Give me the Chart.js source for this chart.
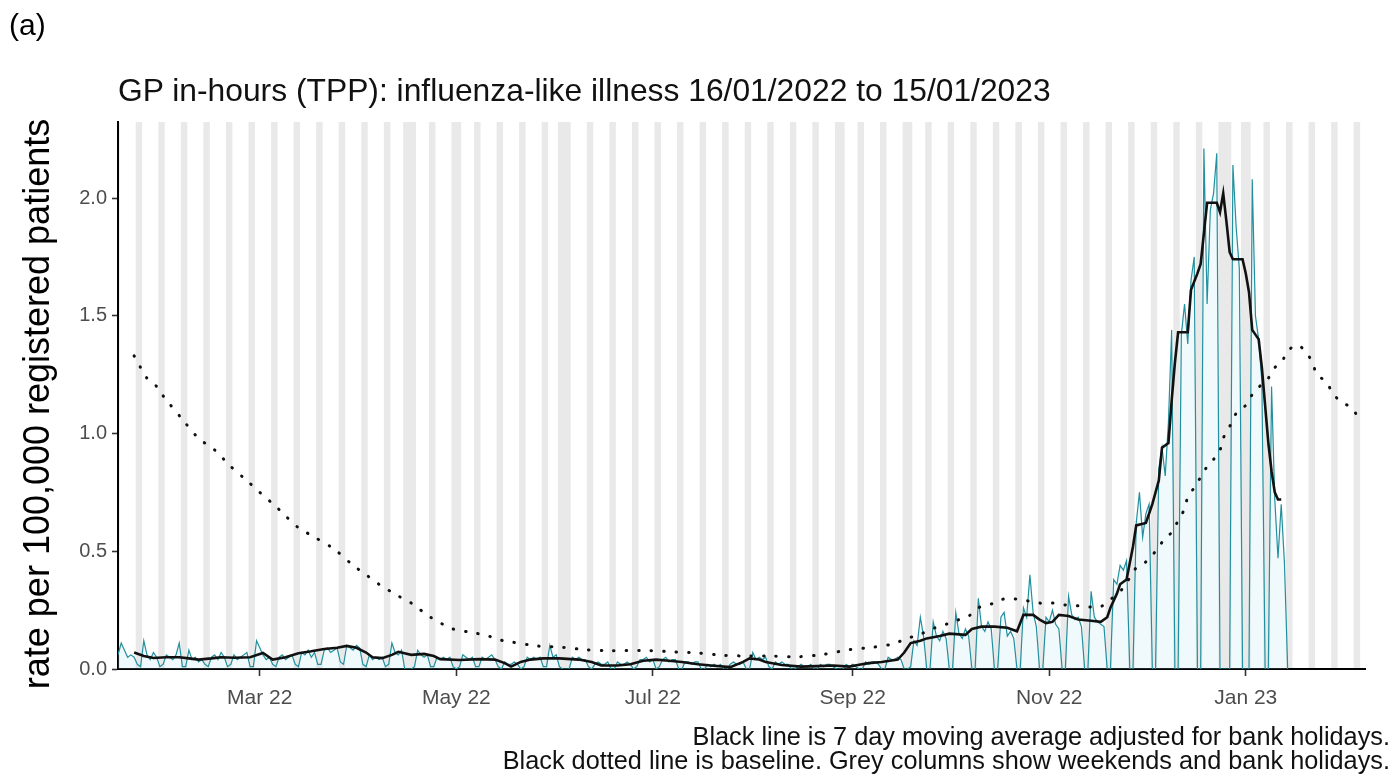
<!DOCTYPE html>
<html>
<head>
<meta charset="utf-8">
<script src="https://cdn.jsdelivr.net/npm/chart.js@4.4.0/dist/chart.umd.min.js"></script>
<style>
  html, body { margin: 0; padding: 0; background: #fff; }
  #wrap { position: relative; width: 1397px; height: 778px; overflow: hidden; font-family: 'Liberation Sans', Arial, Helvetica, sans-serif; }
  #c { position: absolute; left: 0; top: 0; }
  .txt { position: absolute; white-space: nowrap; line-height: 1; color: #000; }
  #tag { left: 9px; top: 10px; font-size: 30px; }
  #title { left: 118px; top: 75px; font-size: 31.8px; color: #111; }
  #cap { right: 7px; top: 724px; font-size: 25.3px; line-height: 24px; text-align: right; color: #111; }
  #ytitle { left: -313px; top: 386px; width: 700px; height: 36px; line-height: 36px; font-size: 36px; text-align: center; transform: rotate(-90deg); transform-origin: 350px 18px; color: #000; }
</style>
</head>
<body>
<div id="wrap">
  <canvas id="c" width="1397" height="778"></canvas>
  <div id="tag" class="txt">(a)</div>
  <div id="title" class="txt">GP in-hours (TPP): influenza-like illness 16/01/2022 to 15/01/2023</div>
  <div id="ytitle" class="txt">rate per 100,000 registered patients</div>
  <div id="cap" class="txt">Black line is 7 day moving average adjusted for bank holidays.<br>Black dotted line is baseline. Grey columns show weekends and bank holidays.</div>
</div>
<script>
// ---------------- DATA ----------------
const startDate = '2022-01-16';          // day 0 of all day-index arrays
const axisEndDate = '2023-02-07';

const xTickDates  = ['2022-03-01', '2022-05-01', '2022-07-01', '2022-09-01', '2022-11-01', '2023-01-01'];
const xTickLabels = ['Mar 22', 'May 22', 'Jul 22', 'Sep 22', 'Nov 22', 'Jan 23'];
const yTickValues = [0, 0.5, 1.0, 1.5, 2.0];
const yMax = 2.323;

const bankHolidays = ['2022-04-15', '2022-04-18', '2022-05-02', '2022-06-02', '2022-06-03',
                      '2022-08-29', '2022-09-19', '2022-12-26', '2022-12-27', '2023-01-02'];

// daily rate, one value per day from 16/01/2022 (rows = weeks Sun..Sat)
const dailyRate = [
  0.06,0.11,0.08,0.05,0.06,0.05,0.02,
  0.01,0.12,0.06,0.04,0.07,0.05,0.01,
  0.02,0.06,0.05,0.04,0.06,0.11,0.01,
  0.01,0.08,0.04,0.05,0.03,0.04,0.02,
  0.01,0.05,0.06,0.04,0.07,0.05,0.01,
  0.02,0.06,0.04,0.05,0.06,0.07,0.01,
  0.01,0.12,0.09,0.06,0.04,0.05,0.02,
  0.01,0.05,0.06,0.04,0.05,0.06,0.02,
  0.01,0.07,0.06,0.08,0.05,0.07,0.02,
  0.02,0.08,0.09,0.07,0.08,0.09,0.03,
  0.02,0.10,0.09,0.08,0.10,0.09,0.02,
  0.01,0.06,0.04,0.05,0.04,0.05,0.01,
  0.02,0.11,0.07,0.06,0.08,0.00,0.00,
  0.00,0.01,0.08,0.06,0.05,0.06,0.01,
  0.01,0.05,0.04,0.05,0.04,0.05,0.01,
  0.00,0.01,0.06,0.05,0.04,0.05,0.01,
  0.01,0.05,0.04,0.05,0.06,0.04,0.01,
  0.00,0.03,0.02,0.02,0.03,0.02,0.00,
  0.01,0.05,0.04,0.05,0.04,0.05,0.01,
  0.01,0.10,0.05,0.06,0.01,0.00,0.00,
  0.00,0.05,0.04,0.05,0.04,0.04,0.01,
  0.00,0.02,0.03,0.02,0.02,0.03,0.00,
  0.00,0.03,0.02,0.02,0.03,0.02,0.00,
  0.01,0.04,0.04,0.05,0.03,0.04,0.00,
  0.01,0.04,0.05,0.03,0.04,0.04,0.00,
  0.00,0.03,0.03,0.02,0.03,0.03,0.00,
  0.00,0.02,0.01,0.02,0.01,0.02,0.00,
  0.00,0.02,0.03,0.02,0.02,0.03,0.00,
  0.00,0.07,0.04,0.05,0.04,0.05,0.01,
  0.00,0.03,0.02,0.03,0.02,0.02,0.00,
  0.00,0.01,0.02,0.01,0.01,0.02,0.00,
  0.00,0.02,0.01,0.02,0.02,0.01,0.00,
  0.00,0.00,0.02,0.01,0.02,0.01,0.00,
  0.00,0.03,0.02,0.03,0.03,0.02,0.00,
  0.00,0.05,0.04,0.04,0.05,0.04,0.00,
  0.00,0.01,0.12,0.10,0.22,0.14,0.00,
  0.00,0.20,0.14,0.12,0.16,0.13,0.00,
  0.00,0.24,0.15,0.13,0.17,0.14,0.00,
  0.00,0.30,0.18,0.16,0.20,0.17,0.00,
  0.00,0.22,0.24,0.14,0.16,0.13,0.00,
  0.00,0.26,0.22,0.40,0.24,0.18,0.00,
  0.00,0.22,0.20,0.25,0.19,0.17,0.00,
  0.00,0.31,0.23,0.21,0.22,0.18,0.00,
  0.00,0.33,0.22,0.20,0.19,0.18,0.00,
  0.00,0.38,0.36,0.44,0.42,0.46,0.00,
  0.00,0.62,0.75,0.56,0.66,0.70,0.00,
  0.00,0.85,0.94,0.82,1.05,1.44,0.00,
  0.00,1.42,1.55,1.38,1.65,1.75,0.00,
  0.00,2.21,1.55,1.95,2.02,2.19,0.00,
  0.00,0.00,0.00,2.14,1.88,1.70,0.00,
  0.00,0.00,2.08,1.50,1.40,1.22,0.00,
  0.00,1.20,0.72,0.47,0.70,0.45,0.00
];

// 7 day moving average (day index since 16/01/2022, value)
const maDay = [5,8,11,15,19,22,25,29,32,36,41,45,48,52,56,60,64,68,71,74,77,79,82,85,87,91,95,98,100,106,112,117,120,122,125,128,132,137,143,147,150,155,159,163,167,171,175,180,184,190,194,196,199,201,206,212,217,222,227,230,233,237,242,244,246,249,251,255,258,263,265,268,272,276,279,281,284,286,288,290,292,295,298,302,305,307,308,310,311,313,315,316,319,321,323,324,326,327,328,329,332,333,335,336,337,338,341,342,343,344,345,346,349,350,351,352,353,354,355,356,357,358,359,360,361];
const maValue = [0.07,0.055,0.047,0.05,0.05,0.045,0.04,0.045,0.05,0.048,0.05,0.068,0.04,0.05,0.067,0.075,0.085,0.09,0.098,0.09,0.07,0.05,0.046,0.06,0.073,0.06,0.064,0.055,0.042,0.038,0.042,0.04,0.025,0.01,0.03,0.04,0.045,0.045,0.04,0.03,0.015,0.015,0.02,0.035,0.04,0.035,0.03,0.02,0.015,0.008,0.03,0.045,0.04,0.03,0.017,0.01,0.012,0.015,0.01,0.018,0.025,0.03,0.04,0.07,0.11,0.12,0.13,0.14,0.15,0.145,0.17,0.18,0.18,0.175,0.16,0.23,0.23,0.21,0.195,0.2,0.23,0.225,0.21,0.205,0.2,0.22,0.26,0.32,0.36,0.38,0.52,0.61,0.62,0.70,0.80,0.94,0.96,1.14,1.30,1.43,1.43,1.61,1.68,1.72,1.85,1.98,1.98,1.94,2.02,1.90,1.77,1.74,1.74,1.68,1.60,1.44,1.42,1.40,1.28,1.12,0.96,0.84,0.75,0.72,0.72];

// baseline (day index since 16/01/2022, value)
const baseDay = [5,7,9,12,14,20,25,30,35,40,44,49,52,56,61,67,73,77,81,87,91,97,104,110,115,118,122,130,138,145,152,165,173,180,188,196,203,211,219,227,234,240,245,249,253,257,260,264,267,271,274,278,282,286,290,294,298,302,305,308,312,316,319,322,325,327,329,331,332,334,336,338,340,342,343,345,347,350,352,355,357,359,361,363,366,369,371,372,375,377,380,383,385];
const baseValue = [1.33,1.28,1.235,1.2,1.16,1.06,0.98,0.93,0.86,0.80,0.75,0.69,0.65,0.60,0.56,0.51,0.44,0.40,0.36,0.31,0.28,0.22,0.17,0.155,0.14,0.125,0.115,0.098,0.092,0.082,0.078,0.078,0.072,0.068,0.058,0.055,0.055,0.052,0.062,0.082,0.092,0.105,0.13,0.148,0.172,0.19,0.205,0.225,0.26,0.276,0.295,0.298,0.29,0.28,0.28,0.272,0.268,0.263,0.265,0.295,0.345,0.43,0.455,0.50,0.556,0.58,0.63,0.68,0.73,0.77,0.815,0.86,0.89,0.93,0.98,1.03,1.085,1.12,1.165,1.21,1.235,1.28,1.30,1.35,1.376,1.34,1.29,1.25,1.22,1.17,1.13,1.11,1.06];

// ---------------- BUILD ----------------
function dayIndex(s) {
  const [y, m, d] = s.split('-').map(Number);
  const [y0, m0, d0] = startDate.split('-').map(Number);
  return Math.round((Date.UTC(y, m - 1, d) - Date.UTC(y0, m0 - 1, d0)) / 86400000);
}
const xMax = dayIndex(axisEndDate);
const bhSet = new Set(bankHolidays.map(dayIndex));
const greyRanges = [];
{
  const [y0, m0, d0] = startDate.split('-').map(Number);
  let cur = null;
  for (let i = 0; i <= xMax; i++) {
    const wd = new Date(Date.UTC(y0, m0 - 1, d0 + i)).getUTCDay();
    const grey = wd === 0 || wd === 6 || bhSet.has(i);
    if (grey) { if (cur) cur[1] = i; else { cur = [i, i]; greyRanges.push(cur); } }
    else cur = null;
  }
}

const greyPlugin = {
  id: 'greyColumns',
  beforeDraw(chart) {
    const { ctx, chartArea: a, scales: { x } } = chart;
    ctx.save();
    ctx.beginPath();
    ctx.rect(a.left, a.top, a.right - a.left, a.bottom - a.top);
    ctx.clip();
    ctx.fillStyle = '#e9e9e9';
    greyRanges.forEach(([s, e]) => {
      const x0 = x.getPixelForValue(s - 0.5);
      const x1 = x.getPixelForValue(e + 0.5);
      ctx.fillRect(x0, a.top, x1 - x0, a.bottom - a.top);
    });
    ctx.restore();
  }
};

const FONT = "'Liberation Sans', Arial, Helvetica, sans-serif";

new Chart(document.getElementById('c'), {
  type: 'line',
  data: {
    datasets: [
      {
        label: 'baseline',
        data: baseDay.map((d, i) => ({ x: d, y: baseValue[i] })),
        borderColor: '#111',
        borderWidth: 3,
        borderDash: [0.5, 12],
        borderCapStyle: 'round',
        pointRadius: 0,
        tension: 0.3,
        fill: false,
        order: 1
      },
      {
        label: '7 day moving average',
        data: maDay.map((d, i) => ({ x: d, y: maValue[i] })),
        borderColor: '#111',
        borderWidth: 2.6,
        pointRadius: 0,
        tension: 0,
        fill: false,
        order: 2
      },
      {
        label: 'daily rate',
        data: dailyRate.map((v, i) => ({ x: i, y: v })),
        borderColor: '#22909e',
        borderWidth: 1.2,
        backgroundColor: 'rgba(170,222,232,0.18)',
        pointRadius: 0,
        tension: 0,
        fill: 'origin',
        order: 3
      }
    ]
  },
  options: {
    responsive: false,
    animation: false,
    devicePixelRatio: 1,
    layout: { padding: { top: 122, right: 32, left: 0, bottom: 0 } },
    plugins: { legend: { display: false }, tooltip: { enabled: false }, title: { display: false } },
    scales: {
      x: {
        type: 'linear',
        min: 0,
        max: xMax,
        afterFit(s) { s.height = 109; },
        afterBuildTicks(s) { s.ticks = xTickDates.map(d => ({ value: dayIndex(d) })); },
        ticks: {
          autoSkip: false, maxRotation: 0, minRotation: 0,
          padding: 10,
          color: '#4d4d4d',
          font: { family: FONT, size: 21 },
          callback: (v, i) => xTickLabels[i]
        },
        grid: { drawOnChartArea: false, drawTicks: true, tickLength: 7, tickColor: '#333', tickWidth: 1.6 },
        border: { display: true, color: '#000', width: 2 }
      },
      y: {
        type: 'linear',
        min: 0,
        max: yMax,
        afterFit(s) { s.width = 118; },
        afterBuildTicks(s) { s.ticks = yTickValues.map(v => ({ value: v })); },
        ticks: {
          padding: 5,
          color: '#4d4d4d',
          font: { family: FONT, size: 20 },
          callback: v => Number(v).toFixed(1)
        },
        grid: { drawOnChartArea: false, drawTicks: true, tickLength: 6, tickColor: '#333', tickWidth: 1.6 },
        border: { display: true, color: '#000', width: 2 },
        title: { display: false }
      }
    }
  },
  plugins: [greyPlugin]
});
</script>
</body>
</html>
